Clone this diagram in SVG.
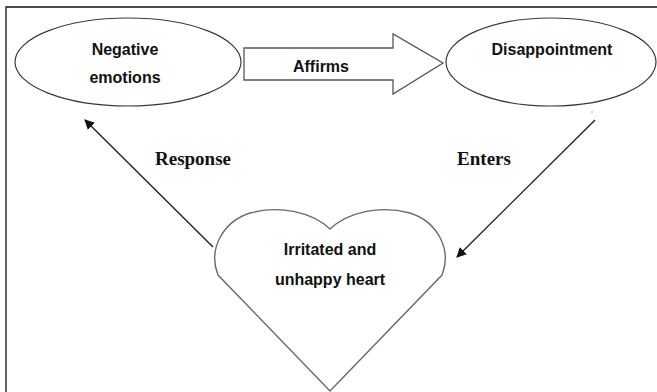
<svg xmlns="http://www.w3.org/2000/svg" width="657" height="392" viewBox="0 0 657 392">
<style>
.node{fill:#fff;stroke:#3a3a3a;stroke-width:1.2}
.heart{fill:#fff;stroke:#6a6a6a;stroke-width:1.4}
.lbl{font-family:"Liberation Sans",Arial,sans-serif;font-weight:bold;font-size:16px;fill:#111;text-anchor:middle}
.elbl{font-family:"Liberation Serif","Times New Roman",serif;font-weight:bold;font-size:19px;fill:#111;text-anchor:middle}
.conn{stroke:#222;stroke-width:1.4;fill:none}
</style>
<defs>
<marker id="ah" viewBox="0 0 10 10" refX="9" refY="5" markerWidth="10" markerHeight="10" markerUnits="userSpaceOnUse" orient="auto">
<path d="M0,0 L10,5 L0,10 Z" fill="#111"/>
</marker>
</defs>
<rect width="657" height="392" fill="#fff"/>
<path d="M6,392 L6,7 L657,7" fill="none" stroke="#111" stroke-width="1.3"/>
<g id="negative-emotions">
<ellipse class="node" cx="128" cy="62" rx="113" ry="44"/>
<text class="lbl" x="125" y="55">Negative</text>
<text class="lbl" x="125" y="83">emotions</text>
</g>
<g id="disappointment">
<ellipse class="node" cx="551" cy="62" rx="105" ry="44"/>
<text class="lbl" x="552" y="55">Disappointment</text>
</g>
<g id="heart">
<path class="heart" d="M330,229 C312,212 280,205 250,213 C222,222 208,250 218,275 L330,391 L442,275 C452,250 438,222 410,213 C380,205 348,212 330,229 Z"/>
<text class="lbl" x="330" y="255">Irritated and</text>
<text class="lbl" x="330" y="285">unhappy heart</text>
</g>
<g id="connectors">
<g id="affirms">
<path d="M244,48 L393,48 L393,34 L443,63 L393,94 L393,80 L244,80 Z" fill="#fff" stroke="#555" stroke-width="1.3"/>
<text class="lbl" x="321" y="72">Affirms</text>
</g>
<line class="conn" x1="213" y1="247" x2="85" y2="120" marker-end="url(#ah)"/>
<text class="elbl" x="193" y="165">Response</text>
<line class="conn" x1="595" y1="120" x2="457" y2="257" marker-end="url(#ah)"/>
<circle cx="592" cy="112" r="0.7" fill="#888"/>
<text class="elbl" x="484" y="165">Enters</text>
</g>
</svg>
